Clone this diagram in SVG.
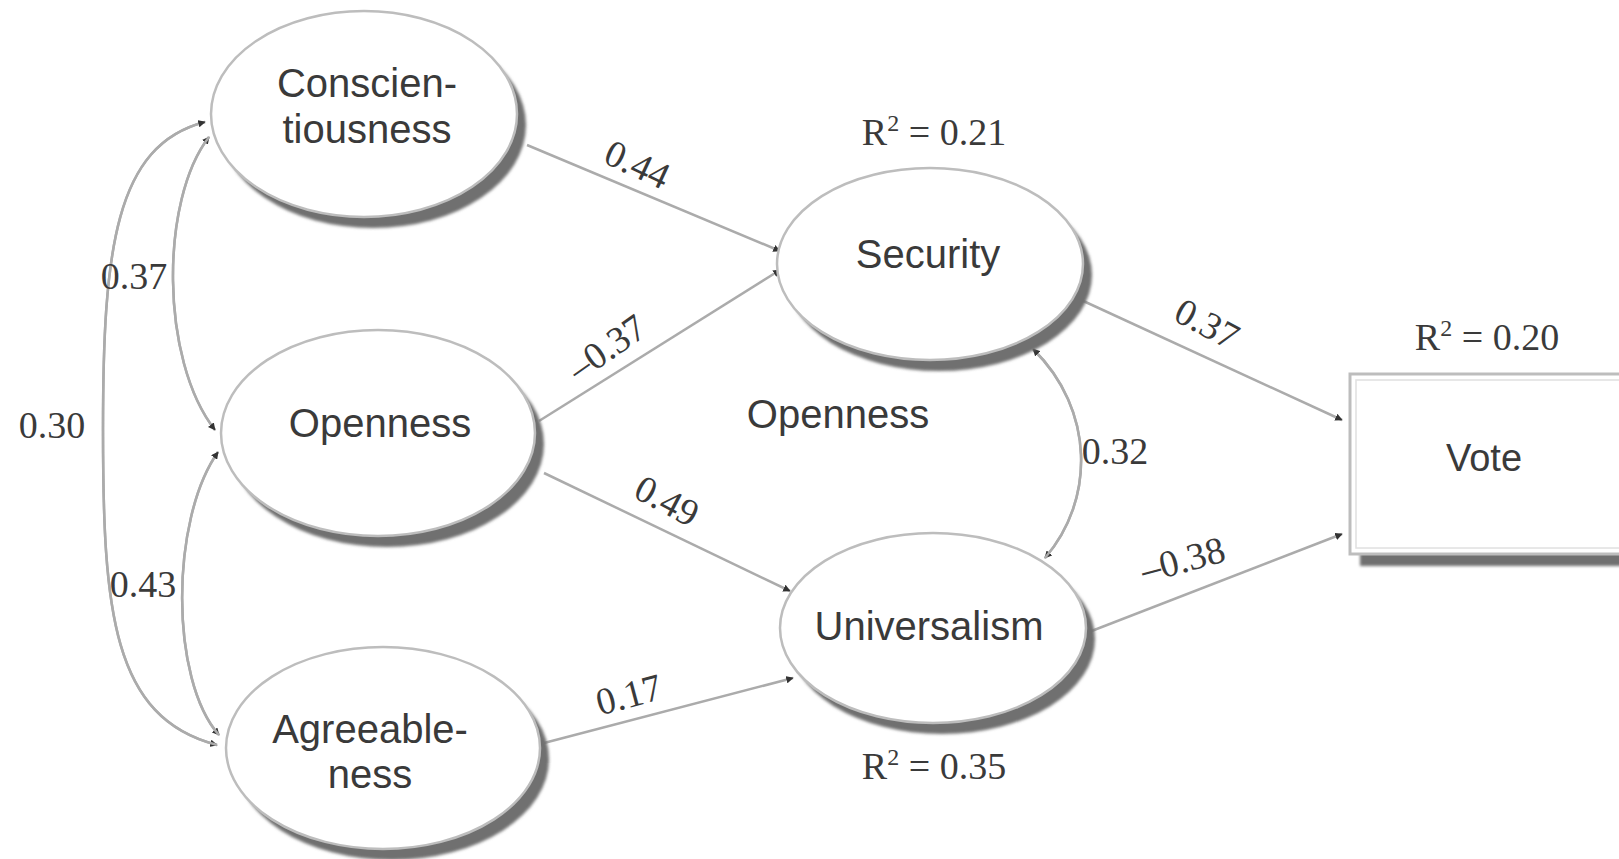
<svg xmlns="http://www.w3.org/2000/svg" width="1619" height="859" viewBox="0 0 1619 859">
<style>
.node{fill:#fff;stroke:#bdbdbd;stroke-width:2.5}
.shadow{fill:#6f6f6f;filter:url(#blur)}
.lbl{font-family:"Liberation Sans",Arial,sans-serif;font-size:40px;fill:#3a3a3a;text-anchor:middle}
.coef{font-family:"Liberation Serif","Times New Roman",serif;font-size:38px;fill:#3a3a3a;text-anchor:middle}
.edge{fill:none;stroke:#ababab;stroke-width:2.5}
</style>
<defs>
<filter id="blur" x="-10%" y="-10%" width="120%" height="120%"><feGaussianBlur stdDeviation="1.5"/></filter>
<marker id="ah" viewBox="0 0 10 10" refX="9" refY="5" markerWidth="3" markerHeight="3" orient="auto"><path d="M0,0 L10,5 L0,10 z" fill="#333"/></marker>
</defs>
<rect width="1619" height="859" fill="#fff"/>

<g id="connectors">
<path class="edge" d="M527,145 L780,251" marker-end="url(#ah)"/>
<path class="edge" d="M539,421 L780,270" marker-end="url(#ah)"/>
<path class="edge" d="M544,473 L790,591" marker-end="url(#ah)"/>
<path class="edge" d="M544,743 L793,678" marker-end="url(#ah)"/>
<path class="edge" d="M1079,299 L1342,420" marker-end="url(#ah)"/>
<path class="edge" d="M1089,632 L1342,534" marker-end="url(#ah)"/>
<path class="edge" d="M1033,349 C1095,410 1095,500 1045,558" marker-end="url(#ah)"/>
<path class="edge" d="M1045,558 C1095,500 1095,410 1033,349" marker-end="url(#ah)"/>
<path class="edge" d="M215,430 C160,360 160,200 209,137" marker-end="url(#ah)"/>
<path class="edge" d="M209,137 C160,200 160,360 215,430" marker-end="url(#ah)"/>
<path class="edge" d="M205,122 C115,145 103,250 103,430 C103,610 112,718 217,745" marker-end="url(#ah)"/>
<path class="edge" d="M217,745 C112,718 103,610 103,430 C103,250 115,145 205,122" marker-end="url(#ah)"/>
<path class="edge" d="M218,452 C170,520 170,680 219,735" marker-end="url(#ah)"/>
<path class="edge" d="M219,735 C170,680 170,520 218,452" marker-end="url(#ah)"/>
</g>

<g id="conscientiousness">
<ellipse class="shadow" cx="373" cy="125" rx="153" ry="103"/>
<ellipse class="node" cx="364" cy="114" rx="153" ry="103"/>
<text class="lbl" x="367" y="97">Conscien-</text>
<text class="lbl" x="367" y="143">tiousness</text>
</g>
<g id="openness">
<ellipse class="shadow" cx="387" cy="444" rx="157" ry="103"/>
<ellipse class="node" cx="378" cy="433" rx="157" ry="103"/>
<text class="lbl" x="380" y="437">Openness</text>
</g>
<g id="agreeableness">
<ellipse class="shadow" cx="392" cy="759" rx="157" ry="101"/>
<ellipse class="node" cx="383" cy="748" rx="157" ry="101"/>
<text class="lbl" x="370" y="743">Agreeable-</text>
<text class="lbl" x="370" y="788">ness</text>
</g>
<g id="security">
<ellipse class="shadow" cx="939" cy="275" rx="153" ry="96"/>
<ellipse class="node" cx="930" cy="264" rx="153" ry="96"/>
<text class="lbl" x="928" y="268">Security</text>
</g>
<g id="universalism">
<ellipse class="shadow" cx="942" cy="639" rx="153" ry="95"/>
<ellipse class="node" cx="933" cy="628" rx="153" ry="95"/>
<text class="lbl" x="929" y="640">Universalism</text>
</g>
<g id="vote">
<rect x="1360" y="386" width="270" height="180" fill="#6f6f6f" filter="url(#blur)"/>
<rect x="1350" y="374" width="280" height="180" fill="#fff" stroke="#bdbdbd" stroke-width="3"/>
<rect x="1356" y="380" width="280" height="168" fill="none" stroke="#e0e0e0" stroke-width="1.5"/>
<text class="lbl" x="1484" y="471" style="font-size:38px">Vote</text>
</g>

<g id="labels">
<text class="coef" x="934" y="145">R<tspan dy="-14" font-size="24">2</tspan><tspan dy="14"> = 0.21</tspan></text>
<text class="coef" x="1487" y="350">R<tspan dy="-14" font-size="24">2</tspan><tspan dy="14"> = 0.20</tspan></text>
<text class="coef" x="934" y="779">R<tspan dy="-14" font-size="24">2</tspan><tspan dy="14"> = 0.35</tspan></text>
<text class="coef" transform="translate(632,176) rotate(25)">0.44</text>
<text class="coef" transform="translate(614,358) rotate(-35)">–0.37</text>
<text class="coef" transform="translate(661,512) rotate(28)">0.49</text>
<text class="coef" transform="translate(632,707) rotate(-15)">0.17</text>
<text class="coef" transform="translate(1201,335) rotate(28)">0.37</text>
<text class="coef" transform="translate(1186,572) rotate(-15)">–0.38</text>
<text class="coef" x="1115" y="464">0.32</text>
<text class="coef" x="134" y="289">0.37</text>
<text class="coef" x="52" y="438">0.30</text>
<text class="coef" x="143" y="597">0.43</text>
<text class="lbl" x="838" y="428">Openness</text>
</g>
</svg>
